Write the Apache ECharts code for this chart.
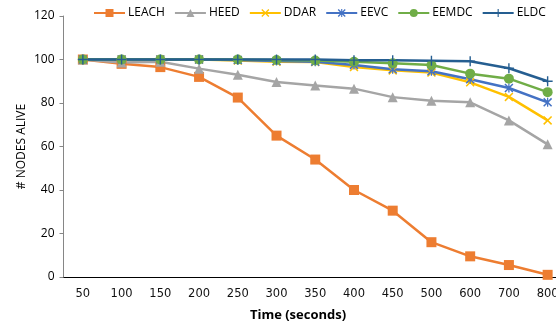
<!DOCTYPE html>
<html lang="en">
<head>
    <meta charset="UTF-8">
    <title>Nodes alive</title>
    <style>
        html, body { margin: 0; padding: 0; background: #fff; }
    </style>
</head>
<body>
    <div id="main" style="height:326px; width: 556px;"></div>
    <script src="https://cdn.jsdelivr.net/npm/echarts@6/dist/echarts.min.js"></script>
    <script>
        var times = ['50', '100', '150', '200', '250', '300', '350', '400', '450', '500', '600', '700', '800'];
        var leach = [100, 98, 96.5, 92, 82.5, 65, 54, 40, 30.5, 16, 9.5, 5.5, 1];
        var heed = [100, 98.6, 99, 95.8, 93, 89.7, 88, 86.6, 82.7, 81, 80.3, 72, 61];
        var ddar = [100, 100, 100, 100, 99.5, 99, 98.8, 96.5, 95, 94, 89.5, 82.8, 72];
        var eevc = [100, 100, 100, 100, 99.8, 99.3, 99, 97.5, 95.5, 94.6, 90.9, 86.9, 80.3];
        var eemdc = [100, 100, 100, 100, 100, 99.8, 99.5, 99, 98.3, 97.5, 93.5, 91.2, 85];
        var eldc = [100, 100, 100, 100, 100, 100, 100, 99.7, 99.6, 99.4, 99.2, 96, 90];

        // marker shapes (excel style)
        var xMark = 'path://M0,1.2L1.2,0L10,8.8L8.8,10Z M8.8,0L10,1.2L1.2,10L0,8.8Z';
        var starMark = 'path://M0,1.2L1.2,0L10,8.8L8.8,10Z M8.8,0L10,1.2L1.2,10L0,8.8Z M4.3,0H5.7V10H4.3Z';
        var plusMark = 'path://M4.3,0H5.7V10H4.3Z M0,4.3H10V5.7H0Z';

        function line(name, data, color, symbol, size) {
            return {
                name: name,
                type: 'line',
                data: data,
                color: color,
                symbol: symbol,
                symbolSize: size,
                showAllSymbol: true,
                lineStyle: { width: 2.5, color: color },
                itemStyle: { color: color },
                animation: false
            };
        }

        var myChart = echarts.init(document.getElementById('main'));
        var option = {
            textStyle: { fontFamily: 'Open Sans' },
            title: {
                text: 'Time (seconds)',
                left: 298,
                top: 309,
                textAlign: 'center',
                padding: 0,
                textStyle: { fontSize: 13, fontWeight: 'bold', color: '#000', fontFamily: 'Open Sans' }
            },
            legend: {
                left: 93,
                top: 7,
                padding: 0,
                itemWidth: 31,
                itemHeight: 10,
                itemGap: 9,
                textStyle: { fontSize: 12, color: '#000', fontFamily: 'Open Sans', padding: [0, 0, 0, -2] }
            },
            grid: {
                left: 63.5,
                right: -11,
                top: 16,
                bottom: 49,
                containLabel: false,
                outerBoundsMode: 'none'
            },
            xAxis: {
                type: 'category',
                data: times,
                boundaryGap: true,
                axisLine: { lineStyle: { color: '#000', width: 1 } },
                axisTick: { show: false },
                axisLabel: { fontFamily: 'DejaVu Sans', fontSize: 11.5, color: '#111', margin: 11 }
            },
            yAxis: {
                type: 'value',
                min: 0,
                max: 120,
                interval: 20,
                name: '# NODES ALIVE',
                nameLocation: 'middle',
                nameGap: 36,
                nameMoveOverlap: false,
                nameTextStyle: { fontSize: 12, color: '#000', fontFamily: 'Open Sans' },
                axisLine: { show: true, lineStyle: { color: '#868686', width: 1 } },
                axisTick: { show: true, length: 4, lineStyle: { color: '#868686' } },
                splitLine: { show: false },
                axisLabel: { fontSize: 12, color: '#000', margin: 9 }
            },
            series: [
                line('LEACH', leach, '#ED7D31', 'rect', 10),
                line('HEED', heed, '#A5A5A5', 'triangle', 10),
                line('DDAR', ddar, '#FFC000', xMark, 9),
                line('EEVC', eevc, '#4472C4', starMark, 9),
                line('EEMDC', eemdc, '#70AD47', 'circle', 10),
                line('ELDC', eldc, '#255E91', plusMark, 10)
            ]
        };
        myChart.setOption(option);
    </script>
</body>
</html>
